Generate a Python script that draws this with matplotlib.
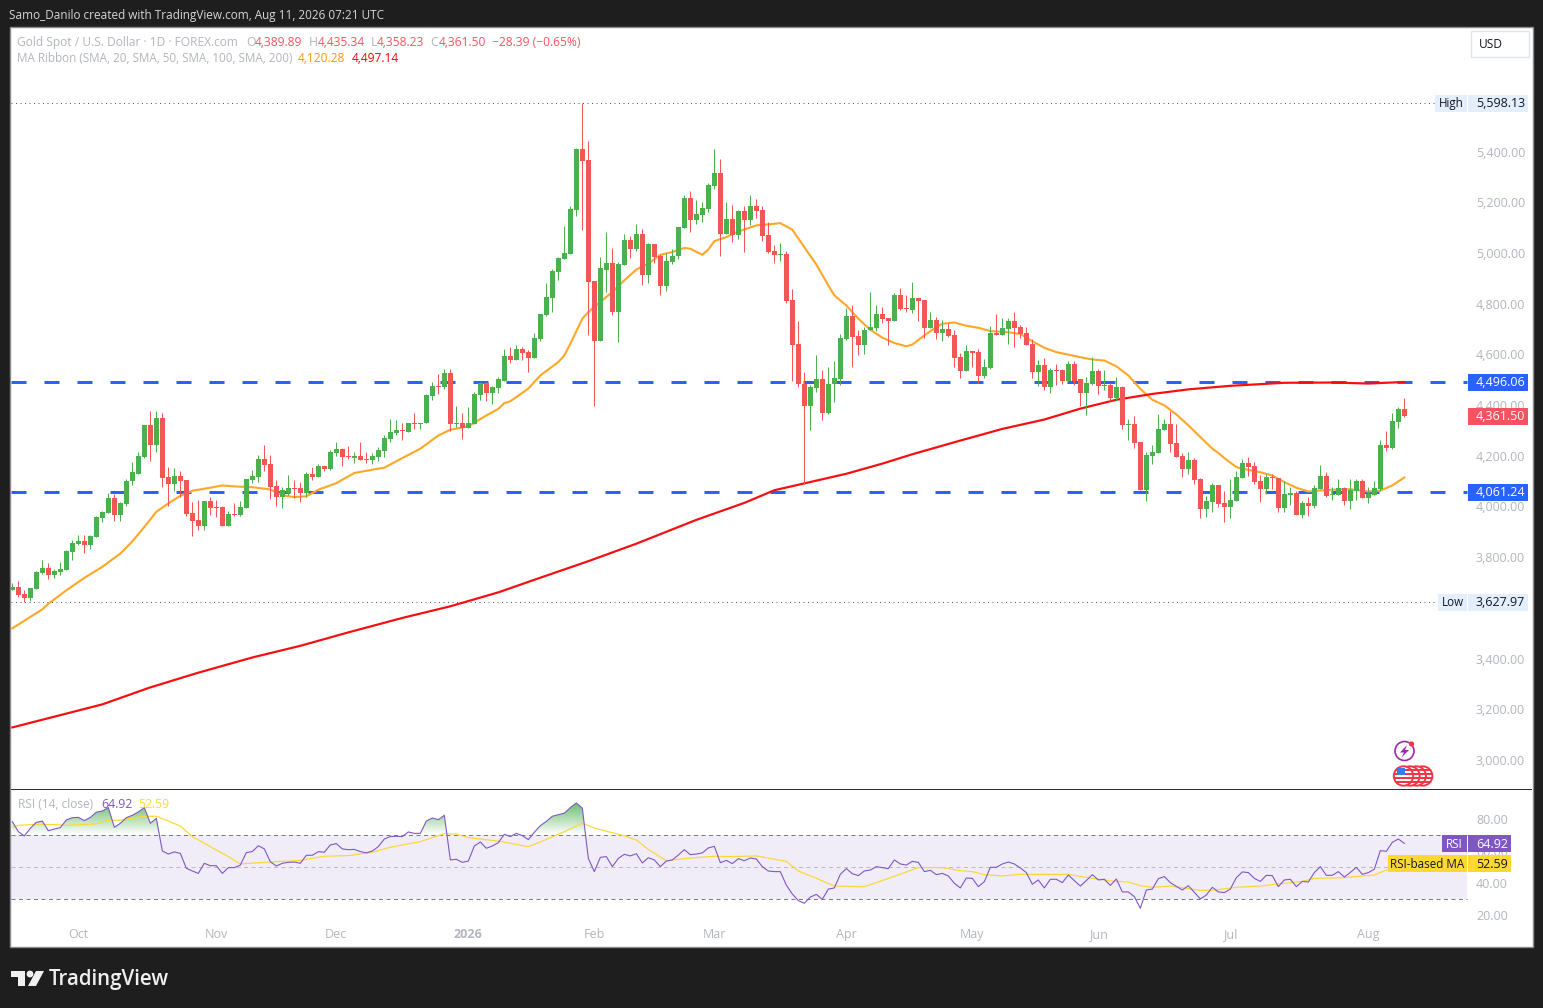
import numpy as np
import matplotlib
matplotlib.use("Agg")
import matplotlib.pyplot as plt
from matplotlib.patches import Rectangle, Circle, Polygon
from matplotlib.path import Path
from matplotlib.transforms import Affine2D, ScaledTranslation

# ---------- data ----------
opens = [3675,3690,3659,3643,3682,3742,3765,3734,3746,3757,
 3828,3856,3868,3852,3884,3959,3982,4041,3974,4014,
 4105,4136,4203,4329,4247,4357,4124,4093,4128,4112,
 3982,3951,3927,4026,4002,4002,3927,3978,3974,3998,
 4112,4124,4195,4172,4085,4042,4061,4077,4077,4061,
 4136,4124,4164,4152,4215,4231,4207,4199,4207,4195,
 4188,4203,4223,4274,4294,4306,4298,4337,4330,4334,
 4440,4483,4476,4531,4330,4337,4314,4330,4444,4495,
 4452,4472,4503,4598,4583,4626,4614,4590,4665,4760,
 4827,4930,4981,5004,5174,5415,5375,4894,4657,4941,
 4965,4772,4957,5056,5020,5083,4918,5040,4993,4874,
 4969,4993,5103,5225,5138,5158,5178,5272,5320,5083,
 5139,5076,5170,5135,5190,5174,5079,5016,5000,5004,
 4819,4649,4491,4401,4472,4507,4373,4488,4507,4665,
 4756,4677,4645,4701,4712,4764,4748,4736,4839,4791,
 4783,4827,4819,4712,4740,4689,4708,4681,4594,4539,
 4621,4614,4519,4551,4689,4681,4708,4736,4716,4689,
 4649,4535,4566,4476,4543,4543,4503,4570,4507,4452,
 4491,4539,4480,4487,4432,4476,4326,4330,4259,4069,
 4207,4215,4306,4330,4255,4207,4152,4191,4113,3994,
 4022,4089,4018,4002,4026,4120,4176,4164,4105,4073,
 4124,4120,3998,4050,4061,3971,4018,4006,4073,4128,
 4050,4050,4077,4026,4065,4105,4038,4050,4073,4247,
 4235,4338,4389.89]
highs = [3702,3710,3675,3686,3750,3793,3781,3761,3785,3836,
 3872,3895,3895,3892,3970,3990,4061,4057,4022,4116,
 4180,4219,4329,4381,4381,4373,4160,4156,4144,4112,
 4022,4030,4026,4045,4030,4006,3990,4018,4026,4116,
 4148,4211,4247,4211,4109,4081,4132,4109,4101,4140,
 4160,4172,4164,4227,4262,4235,4243,4219,4259,4219,
 4215,4239,4286,4353,4349,4334,4337,4373,4337,4448,
 4499,4527,4550,4550,4404,4373,4400,4456,4499,4499,
 4480,4515,4629,4634,4642,4634,4622,4689,4764,4886,
 4942,4989,5111,5190,5419,5598.13,5450,4894,4992,5091,
 5024,4969,5083,5075,5119,5099,5044,5040,5001,5008,
 5020,5107,5237,5249,5217,5206,5281,5418,5379,5206,
 5194,5174,5190,5237,5221,5190,5127,5036,5044,5016,
 4866,4736,4535,4484,4602,4543,4555,4578,4685,4791,
 4799,4704,4716,4854,4799,4795,4748,4847,4870,4839,
 4890,4827,4819,4772,4752,4740,4728,4701,4610,4645,
 4621,4629,4586,4720,4764,4748,4748,4772,4724,4716,
 4665,4582,4590,4551,4570,4547,4578,4578,4507,4515,
 4594,4547,4543,4495,4515,4480,4353,4361,4259,4219,
 4247,4369,4353,4381,4330,4215,4219,4199,4117,4046,
 4097,4089,4065,4116,4144,4195,4203,4180,4132,4136,
 4136,4120,4105,4081,4065,4026,4042,4089,4168,4140,
 4081,4116,4081,4116,4116,4113,4081,4105,4267,4302,
 4373,4397,4435.34]
lows = [3675,3647,3627.97,3631,3682,3738,3718,3722,3734,3757,
 3793,3852,3821,3840,3884,3943,3982,3947,3947,4006,
 4089,4136,4199,4187,4219,4081,4006,4065,4045,3970,
 3888,3915,3915,3974,3963,3927,3927,3967,3970,3998,
 4097,4101,4144,4034,4006,3998,4050,4038,4022,4042,
 4109,4124,4144,4148,4207,4164,4195,4176,4191,4176,
 4172,4184,4203,4259,4286,4270,4298,4310,4310,4334,
 4428,4448,4468,4302,4318,4274,4314,4330,4428,4424,
 4409,4452,4503,4571,4583,4583,4535,4590,4657,4756,
 4772,4898,4981,5004,5154,5095,4681,4401,4657,4851,
 4760,4654,4957,4985,5016,4878,4886,4965,4839,4855,
 4961,4981,5103,5091,5119,5127,5166,5257,4993,5083,
 5048,5060,5012,5115,5146,5052,5008,4965,4973,4807,
 4503,4476,4093,4306,4456,4349,4369,4417,4484,4661,
 4555,4602,4606,4701,4697,4728,4645,4736,4783,4772,
 4768,4736,4669,4712,4665,4657,4673,4555,4511,4539,
 4558,4495,4511,4547,4681,4681,4649,4637,4669,4645,
 4511,4480,4464,4452,4487,4491,4503,4484,4401,4365,
 4487,4448,4464,4424,4424,4310,4270,4235,4069,4026,
 4172,4215,4306,4219,4203,4121,4136,4093,3959,3963,
 3983,4002,3943,3959,4026,4120,4128,4093,4022,4054,
 4073,3986,3983,4010,3971,3959,3967,3998,4073,4042,
 4030,4050,4010,3994,4030,4038,4018,4050,4065,4223,
 4231,4314,4358.23]
closes = [3690,3655,3643,3686,3746,3765,3734,3750,3761,3832,
 3860,3868,3852,3888,3963,3986,4041,3974,4018,4108,
 4140,4207,4329,4247,4357,4120,4093,4128,4108,3978,
 3947,3927,4026,3998,3998,3927,3978,3974,4002,4116,
 4128,4195,4168,4081,4042,4069,4077,4073,4061,4136,
 4124,4164,4152,4219,4231,4203,4203,4207,4191,4188,
 4207,4227,4278,4298,4306,4302,4337,4330,4337,4444,
 4483,4476,4531,4330,4337,4314,4334,4448,4495,4452,
 4476,4507,4598,4583,4626,4610,4590,4669,4764,4831,
 4934,4985,5008,5178,5415,5371,4890,4657,4945,4965,
 4772,4961,5056,5020,5083,4918,5040,4989,4874,4973,
 4996,5107,5225,5138,5162,5182,5276,5320,5083,5139,
 5076,5170,5135,5190,5170,5075,5012,5000,5004,4815,
 4645,4488,4401,4476,4507,4373,4491,4511,4669,4756,
 4673,4645,4704,4716,4764,4744,4736,4839,4787,4787,
 4827,4815,4712,4740,4689,4708,4677,4590,4539,4621,
 4610,4519,4555,4689,4681,4712,4736,4712,4685,4645,
 4535,4566,4476,4543,4539,4503,4570,4503,4452,4495,
 4539,4480,4487,4432,4476,4326,4330,4255,4069,4211,
 4219,4310,4330,4251,4203,4152,4191,4109,3994,4026,
 4089,4014,4002,4030,4124,4176,4160,4101,4073,4124,
 4120,3998,4054,4061,3971,4018,4006,4077,4128,4046,
 4054,4077,4026,4069,4105,4038,4054,4077,4247,4235,
 4342,4390,4361.50]

ma20_idx = [0,5,6,9,12,15,18,20,22,24,26,28,30,33,35,37,40,43,45,47,49,51,54,57,60,62,65,68,71,73,76,79,81,82,
 83,86,88,91,92,93,95,96,98,100,102,104,106,108,110,112,113,115,116,117,119,121,123,
 124,125,126,128,130,132,134,136,137,139,141,143,145,147,149,150,152,154,155,157,159,161,163,165,166,
 168,170,172,174,176,178,180,182,184,186,188,190,192,194,196,198,200,201,
 202,204,205,208,210,212,214,216,218,220,223,226,228,230,232]
ma20_val = [3525,3600,3622,3675,3724,3768,3820,3868,3925,3985,4018,4048,4068,4080,4089,4085,4082,4073,4050,4043,4046,4072,4098,4138,4151,4159,4197,4234,4286,4309,4322,4365,4391,4414,
 4421,4471,4523,4576,4602,4648,4747,4773,4813,4852,4898,4941,4964,4999,5010,5026,5023,4999,5020,5053,5069,5091,5107,
 5115,5118,5119,5124,5098,5029,4961,4878,4839,4799,4747,4703,4672,4651,4638,4645,4681,4714,4727,4732,4719,4711,4698,4695,4693,
 4687,4658,4632,4615,4605,4595,4586,4582,4559,4523,4470,4427,4405,4369,4326,4280,4234,4217,
 4197,4161,4155,4141,4128,4102,4080,4065,4069,4072,4074,4065,4069,4089,4120.28]

ma200_idx = [0,15,23,31,40,48,56,65,73,81,89,96,104,114,122,127,132,139,145,150,158,165,172,178,184,190,196,203,212,220,226,232]
ma200_val = [3134,3225,3292,3350,3410,3456,3509,3566,3612,3667,3733,3790,3859,3953,4020,4070,4097,4135,4175,4212,4266,4312,4349,4392,4427,4450,4468,4482,4494,4495,4491,4497.14]

rsi_vals = [78.5,72.3,69.6,74.4,78.1,78.9,72.9,73.9,74.8,79.6,81.0,81.2,79.2,81.2,84.4,85.2,87.3,75.0,77.5,81.0,82.5,84.6,87.3,77.5,80.6,
 60.2,58.3,59.6,58.7,49.4,47.7,46.2,52.5,51.0,51.0,46.2,49.8,49.8,51.4,59.2,59.8,63.5,61.5,53.5,50.8,52.5,53.1,53.3,52.5,57.5,57.5,
 59.8,59.4,64.0,64.8,61.5,61.0,61.2,59.8,59.0,60.2,62.9,67.7,69.2,69.4,69.2,72.1,71.2,71.2,78.9,80.8,79.8,82.5,54.6,55.0,53.1,53.9,63.3,65.8,61.9,63.3,65.4,
 70.6,69.2,71.2,69.8,67.3,71.9,76.0,78.7,81.9,82.9,83.8,87.3,90.2,86.9,55.6,47.3,56.2,56.7,50.4,55.6,58.1,57.1,58.5,52.7,56.0,54.6,50.4,53.9,54.6,57.7,61.0,57.9,58.3,59.0,62.1,63.1,
 52.9,54.3,52.3,55.4,54.1,55.8,55.2,50.4,47.7,47.3,47.3,38.9,33.3,29.2,27.5,31.4,33.1,30.0,36.4,37.1,45.6,49.2,46.0,44.8,47.7,48.3,50.4,49.8,49.2,54.6,52.1,51.4,53.7,53.1,47.3,48.1,45.4,46.2,44.6,40.0,37.1,43.3,43.1,37.9,41.0,50.0,50.0,
 52.1,53.3,52.1,49.6,46.7,39.4,42.1,37.1,42.5,42.5,40.4,45.2,41.7,38.3,41.7,45.4,42.1,42.5,38.7,42.7,34.6,34.6,31.7,24.4,35.8,36.4,42.9,44.2,40.4,38.1,35.8,38.5,34.4,30.2,32.7,37.5,34.6,34.2,36.4,43.5,47.1,46.7,43.1,41.2,45.0,44.8,37.9,42.1,42.5,37.9,41.2,40.8,46.7,50.4,45.0,45.0,47.3,43.9,46.8,50.0,45.6,46.7,48.8,60.4,60.0,65.6,67.7,64.92]

rsi_ma_idx = [0,1,4,7,9,14,16,18,22,24,28,30,33,36,38,42,48,52,56,60,63,67,68,72,74,76,81,
 86,88,92,95,97,102,104,106,109,110,113,117,120,124,129,131,134,137,142,145,151,155,158,160,162,165,
 168,176,180,183,186,188,190,193,198,200,204,208,211,215,217,222,227,229,232]
rsi_ma_val = [75.0,76.2,76.9,76.7,76.2,77.1,79.4,79.4,81.9,81.9,75.8,69.2,62.9,56.7,52.1,53.1,54.3,56.9,57.3,59.4,62.5,65.4,66.0,71.0,70.8,68.5,66.4,
 62.9,65.8,72.3,77.5,74.6,69.6,67.1,61.2,54.1,54.6,55.8,56.9,56.7,57.1,53.7,47.7,43.1,38.3,37.9,41.7,49.8,49.8,47.9,47.3,45.4,44.6,
 45.6,45.6,43.1,41.5,40.8,38.5,37.5,38.3,35.6,35.6,37.5,38.3,39.6,41.2,43.1,43.5,45.2,48.3,52.59]

levels = [4496.06, 4061.24]
high_low = [5598.13, 3627.97]
price_ticks = [5400,5200,5000,4800,4600,4400,4200,4000,3800,3400,3200,3000]
rsi_ticks = [80,60,40,20]
time_pos = [11,34,54,76,97,117,139,160,181,203,226]
time_lab = ["Oct","Nov","Dec","2026","Feb","Mar","Apr","May","Jun","Jul","Aug"]

# ---------- style ----------
W, H = 1543, 1008
FONT = ["Open Sans", "DejaVu Sans"]
plt.rcParams["font.family"] = FONT
plt.rcParams["lines.scale_dashes"] = False
GREEN, RED = "#4caf50", "#f25656"
GREY = "#b2b5be"
PURPLE, YELLOW = "#7e57c2", "#fdd835"
BLUE = "#2962ff"
PT = 0.72  # points per pixel

fig = plt.figure(figsize=(W/100, H/100), dpi=100, facecolor="#1e1e1e")
T = Affine2D().scale(1, -1).translate(0, H)

def axes_px(x0, y0, x1, y1):
    return fig.add_axes([x0/W, 1-y1/H, (x1-x0)/W, (y1-y0)/H])

def box(x0, y0, x1, y1, color, z=10):
    fig.add_artist(Rectangle((x0, y0), x1-x0, y1-y0, transform=T, facecolor=color, edgecolor="none", zorder=z))

def label(x, y, s, color, size=9, ha="left", weight="normal", z=11):
    fig.text(x, y+1, s, transform=T, color=color, fontsize=size, ha=ha, va="center", weight=weight, zorder=z)

# frame
fig.add_artist(Rectangle((10, 27), 1523, 920, transform=T, facecolor="white", edgecolor="#8a8a8a", lw=1, zorder=-1))

XMIN, XMAX = (11-12.33)/6, (1532-12.33)/6
XEND = (1467-12.33)/6
ax = axes_px(11, 27, 1532, 789)
ax.set_xlim(XMIN, XMAX)
ax.set_ylim(2891, 5898)
ax.patch.set_alpha(0)
for s in ax.spines.values():
    s.set_visible(False)

xs = np.arange(len(closes))
o, h, l, c = map(np.array, (opens, highs, lows, closes))
cols = [GREEN if cc >= oo else RED for oo, cc in zip(o, c)]

for lv in levels:
    ax.plot([XMIN, XEND], [lv, lv], color=BLUE, lw=3*PT, ls=(0, (15*PT, 18*PT)), dash_capstyle="butt", zorder=1)
for lv in high_low:
    ax.plot([XMIN, XEND], [lv, lv], color="#555555", lw=1*PT, ls=(0, (1*PT, 3.5*PT)), dash_capstyle="butt", zorder=1)

ax.plot(ma20_idx, ma20_val, color="#ffa726", lw=2.1*PT, zorder=1.5, solid_joinstyle="round")
ax.plot(ma200_idx, ma200_val, color="#f70f0f", lw=2.2*PT, zorder=1.6, solid_joinstyle="round")

ax.vlines(xs, l, h, colors=cols, lw=1*PT, zorder=2)
ax.bar(xs, np.maximum(np.abs(c-o), 3), bottom=np.minimum(o, c), width=5/6, color=cols, linewidth=0, zorder=2.1)

ax.set_xticks([])
ax.set_yticks(price_ticks)
ax.set_yticklabels([f"{t:,.2f}" for t in price_ticks])
ax.yaxis.tick_right()
ax.tick_params(axis="y", length=0, pad=-56*PT, labelsize=9, labelcolor=GREY)
lift = ScaledTranslation(0, 1.5/100, fig.dpi_scale_trans)
for t in ax.get_yticklabels():
    t.set_transform(t.get_transform() + lift)

# RSI pane
ax2 = axes_px(11, 790, 1532, 947)
ax2.set_xlim(XMIN, XMAX)
RLIM = (70-(947-835.3)/1.6, 70+(835.3-790)/1.6)
ax2.set_ylim(*RLIM)
ax2.patch.set_alpha(0)
for s in ax2.spines.values():
    s.set_visible(False)

rsi = np.array(rsi_vals)
rx = np.arange(len(rsi))
ax2.fill_between([XMIN, XEND], 30, 70, color=PURPLE, alpha=0.11, linewidth=0, zorder=1)
for v, col in ((70, "#787b86"), (50, "#b9bac2"), (30, "#787b86")):
    ax2.plot([XMIN, XEND], [v, v], color=col, lw=1*PT, ls=(0, (4*PT, 3.5*PT)), zorder=1.2)

poly = ax2.fill_between(rx, 70, rsi, where=rsi > 70, interpolate=True, facecolor="none", edgecolor="none")
clip = Path.make_compound_path(*poly.get_paths())
vv = np.linspace(70, 92, 64)
arr = np.zeros((64, 1, 4))
arr[..., 0], arr[..., 1], arr[..., 2] = 0.30, 0.69, 0.31
arr[:, 0, 3] = np.clip((vv-70)/18, 0, 1)*0.75
im = ax2.imshow(arr, extent=[XMIN, XMAX, 70, 92], origin="lower", aspect="auto", zorder=1.3)
im.set_clip_path(clip, ax2.transData)
ax2.set_xlim(XMIN, XMAX)
ax2.set_ylim(*RLIM)

ax2.plot(rsi_ma_idx, rsi_ma_val, color=YELLOW, lw=1.2*PT, zorder=2)
ax2.plot(rx, rsi, color=PURPLE, lw=1.1*PT, zorder=2.1)

ax2.set_yticks(rsi_ticks)
ax2.set_yticklabels([f"{t:.2f}" for t in rsi_ticks])
ax2.yaxis.tick_right()
ax2.tick_params(axis="y", length=0, pad=-56*PT, labelsize=9, labelcolor=GREY)
ax2.set_xticks(time_pos)
ax2.set_xticklabels(time_lab)
ax2.tick_params(axis="x", length=0, direction="in", pad=-19*PT, labelsize=9, labelcolor=GREY)
for t in ax2.get_xticklabels():
    if t.get_text() == "2026":
        t.set_fontweight("bold")

# separator
fig.add_artist(Rectangle((11, 789), 1521, 1, transform=T, facecolor="#2a2e39", edgecolor="none", zorder=5))

# header & legends
label(9, 14.5, "Samo_Danilo created with TradingView.com, Aug 11, 2026 07:21 UTC", "#d6d6d6", 8.45)
label(17, 41.5, "Gold Spot / U.S. Dollar · 1D · FOREX.com", GREY, 8.65)
for x, s in ((246, "O"), (309, "H"), (371, "L"), (430, "C")):
    label(x, 41.5, s, GREY, 8.8)
for x, s in ((255, "4,389.89"), (318, "4,435.34"), (377, "4,358.23"), (439, "4,361.50"), (492, "−28.39 (−0.65%)")):
    label(x, 41.5, s, "#f7525f", 8.65)
label(17, 58, "MA Ribbon (SMA, 20, SMA, 50, SMA, 100, SMA, 200)", GREY, 8.4)
label(298, 58, "4,120.28", "#ff9800", 8.65)
label(352, 58, "4,497.14", "#ff0000", 8.65)
label(18, 804, "RSI (14, close)", GREY, 8.6)
label(101, 804, "64.92", PURPLE, 8.8)
label(138, 804, "52.59", YELLOW, 8.8)

# USD box
fig.add_artist(Rectangle((1471, 31), 58, 26, transform=T, facecolor="white", edgecolor="#e0e3eb", lw=1, zorder=9))
label(1491, 44, "USD", "#131722", 8.6, ha="center")

# price labels
for y0, y1, s, col in ((374, 391, "4,496.06", BLUE), (408, 425, "4,361.50", "#f7525f"), (484, 501, "4,061.24", BLUE)):
    box(1468, y0, 1528, y1, col)
    label(1476, (y0+y1)/2-0.5, s, "white", 9)
LIGHT = "#e3effd"
for y, name, val, nx in ((103, "High", "5,598.13", 1437), (602, "Low", "3,627.97", 1440)):
    box(nx-2, y-8, 1467, y+9, LIGHT)
    box(1468, y-8, 1528, y+9, LIGHT)
    label(nx+2, y-0.5, name, "#131722", 8.4)
    label(1476, y-0.5, val, "#131722", 9)
box(1442, 835, 1467, 852, PURPLE)
box(1468, 835, 1511, 852, PURPLE)
label(1454.5, 843, "RSI", "white", 8.4, ha="center")
label(1476, 843, "64.92", "white", 9)
box(1388, 855, 1467, 872, YELLOW)
box(1468, 855, 1511, 872, YELLOW)
label(1427.5, 863, "RSI-based MA", "#131722", 8.4, ha="center")
label(1476, 863, "52.59", "#131722", 9)

# event icons
fig.add_artist(Circle((1404.5, 751), 9.5, transform=T, facecolor="white", edgecolor="#9c27b0", lw=1.2, zorder=9))
fig.add_artist(Polygon([(1407, 745), (1400, 752.5), (1404, 752.5), (1401.5, 757.5), (1409, 750), (1405, 750)],
                       closed=True, transform=T, facecolor="#9c27b0", edgecolor="none", zorder=10))
fig.add_artist(Circle((1411.5, 744), 2.6, transform=T, facecolor="#f23645", edgecolor="none", zorder=10))
for n, cx in enumerate((1422.7, 1416.3, 1410, 1403.5)):
    ring = Circle((cx, 776), 9.7, transform=T, facecolor="white", edgecolor="#f23645", lw=1.4, zorder=9+n)
    fig.add_artist(ring)
    for yy in (770, 774, 778, 782):
        st = Rectangle((cx-10, yy-1), 20, 2, transform=T, facecolor="#f23645", edgecolor="none", zorder=9.1+n)
        fig.add_artist(st)
        st.set_clip_path(ring)
canton = Rectangle((1397, 768), 8, 7, transform=T, facecolor="#2f80ed", edgecolor="none", zorder=12.5)
fig.add_artist(canton)

# footer logo
wm = "#f0f0f0"
fig.add_artist(Polygon([(11, 971), (25, 971), (25, 986), (18, 986), (18, 977), (11, 977)], closed=True, transform=T, facecolor=wm, edgecolor="none"))
fig.add_artist(Circle((30, 974), 3.4, transform=T, facecolor=wm, edgecolor="none"))
fig.add_artist(Polygon([(36, 971), (44, 971), (36, 986), (28, 986)], closed=True, transform=T, facecolor=wm, edgecolor="none"))
label(49, 978, "TradingView", wm, 14.8, weight=600)

fig.savefig("out.png", dpi=100, facecolor=fig.get_facecolor())
